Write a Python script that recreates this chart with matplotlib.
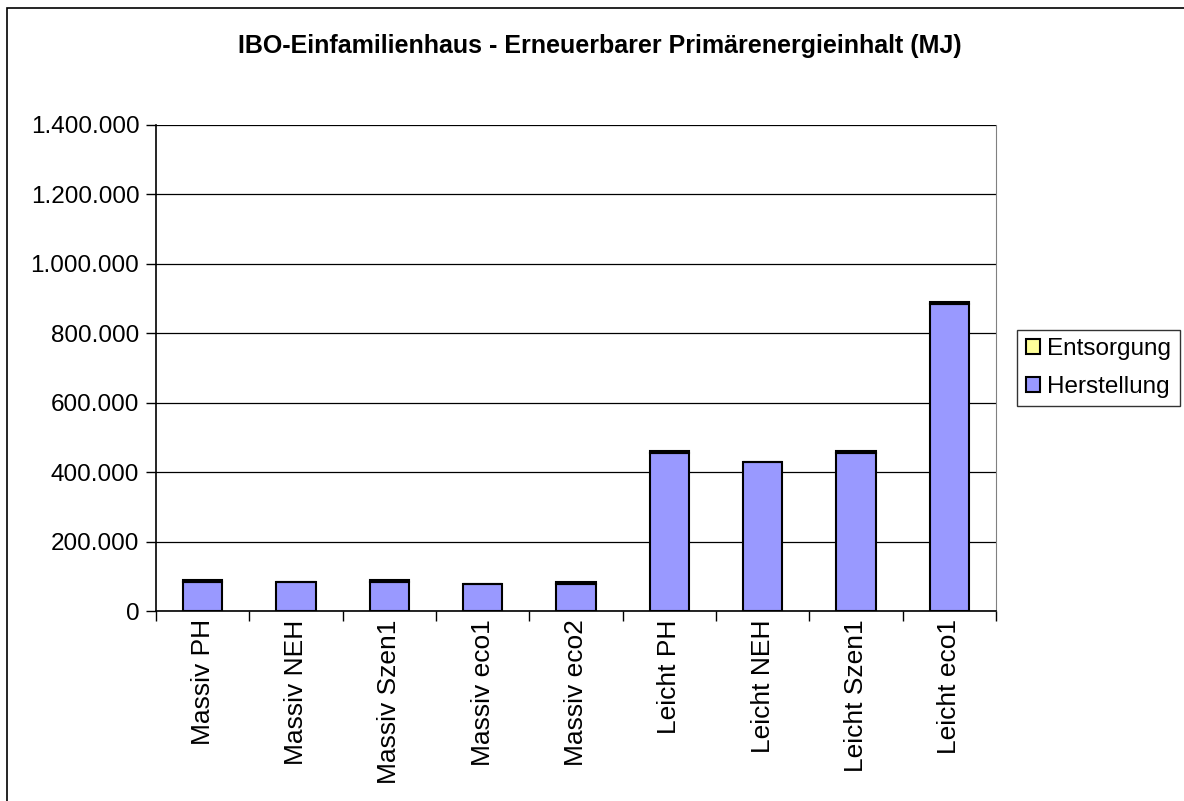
import numpy as np
import matplotlib.pyplot as plt
from matplotlib.patches import Rectangle
from matplotlib.ticker import FuncFormatter

plt.rcParams['font.family'] = ['Liberation Sans', 'DejaVu Sans']

categories = ["Massiv PH", "Massiv NEH", "Massiv Szen1", "Massiv eco1", "Massiv eco2",
              "Leicht PH", "Leicht NEH", "Leicht Szen1", "Leicht eco1"]
herstellung = [83000, 83000, 83000, 77000, 78000, 455000, 429000, 455000, 884000]
entsorgung = [5000, 1000, 5000, 1000, 5000, 5000, 1000, 5000, 5000]
yticks = [0, 200000, 400000, 600000, 800000, 1000000, 1200000, 1400000]

fig = plt.figure(figsize=(11.84, 8.01), dpi=100)
# outer chart frame
fig.patches.append(Rectangle((7 / 1184, -0.1), 1.2, 1 - 8 / 801 + 0.1, transform=fig.transFigure,
                             fill=False, edgecolor="black", linewidth=1.2))

ax = fig.add_axes([156 / 1184, 1 - 611 / 801, 840 / 1184, 486 / 801])
x = np.arange(len(categories))
ax.bar(x, herstellung, width=0.42, color="#9999FF", edgecolor="black", linewidth=1.5,
       label="Herstellung", zorder=3)
ax.bar(x, entsorgung, width=0.42, bottom=herstellung, color="#FFFF99", edgecolor="black",
       linewidth=1.5, label="Entsorgung", zorder=3)

ax.set_xlim(-0.5, len(categories) - 0.5)
ax.set_ylim(0, 1400000)
ax.set_yticks(yticks)
ax.yaxis.set_major_formatter(FuncFormatter(lambda v, p: f"{int(v):,}".replace(",", ".")))
ax.yaxis.grid(True, color="black", linewidth=0.9, zorder=0)
ax.set_xticks(x)
ax.set_xticklabels(categories, rotation=90, fontsize=19)
ax.set_xticks(np.arange(len(categories) + 1) - 0.5, minor=True)
ax.tick_params(axis="x", which="major", length=0, pad=6)
ax.tick_params(axis="x", which="minor", length=7, width=1, direction="out")
ax.tick_params(axis="y", labelsize=17.5, length=7, width=1, direction="out", pad=5)

ax.spines["top"].set_visible(False)
ax.spines["right"].set_color("#808080")
ax.spines["left"].set_linewidth(1.2)
ax.spines["bottom"].set_linewidth(1.2)

handles, labels = ax.get_legend_handles_labels()
leg = fig.legend(handles[::-1], labels[::-1], loc="center left",
                 bbox_to_anchor=(1017 / 1184, 1 - 368 / 801), fontsize=17.5,
                 frameon=True, fancybox=False, edgecolor="black", handlelength=0.6,
                 handleheight=0.6, handletextpad=0.3, borderpad=0.35, labelspacing=0.65,
                 borderaxespad=0, handler_map=None)
leg.get_frame().set_linewidth(1.0)

fig.text(600 / 1184, 1 - 46 / 801, "IBO-Einfamilienhaus - Erneuerbarer Primärenergieinhalt (MJ)",
         ha="center", va="center", fontsize=18, fontweight="bold")

fig.savefig("out.png", dpi=100)
